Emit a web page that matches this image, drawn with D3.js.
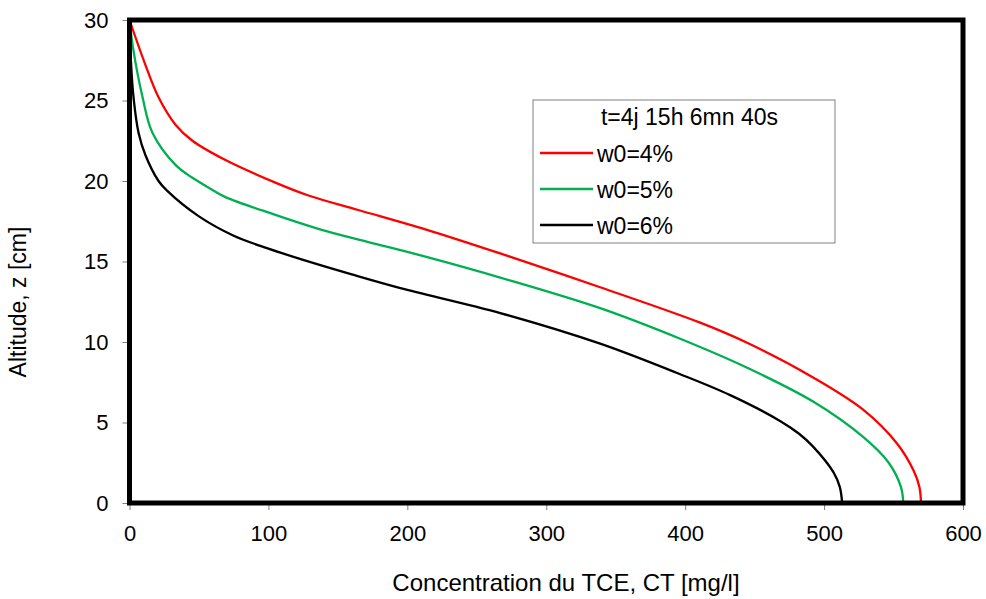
<!DOCTYPE html>
<html>
<head>
<meta charset="utf-8">
<script src="https://cdn.jsdelivr.net/npm/d3@7"></script>
<style>
  body { margin: 0; background: #fff; }
  text { font-family: Arial, "Liberation Sans", sans-serif; fill: #000; }
</style>
</head>
<body>
<div id="chart"></div>
<script>
// data: concentration CT [mg/l] at altitude z [cm]
var redCT   = [0, 11.5, 20.9, 33.1, 45.3, 69.1, 105, 128.8, 164.7, 213, 266.9, 338.8, 410.8, 444.6, 492.1, 528.1, 552.5, 564.5, 568.6, 569.8];
var redZ    = [30, 27.2, 25.2, 23.5, 22.5, 21.3, 19.9, 19.1, 18.2, 17.0, 15.5, 13.4, 11.2, 9.95, 7.8, 5.8, 3.7, 2.0, 1.0, 0];

var greenCT = [0, 2.5, 9.4, 16.5, 33.1, 45.3, 56.8, 69.1, 105, 141, 177, 213, 266.9, 338.8, 396.4, 444.6, 492.1, 528.1, 546.5, 555.3, 557];
var greenZ  = [30, 28.3, 25.2, 23.0, 21.0, 20.2, 19.6, 19.0, 17.9, 16.9, 16.1, 15.3, 14.0, 12.1, 10.2, 8.4, 6.3, 4.1, 2.5, 1.0, 0];

var blackCT = [0, 1.0, 2.9, 6.5, 11.5, 20.9, 27, 50, 75, 100, 125, 160, 195, 266.9, 338.8, 396.4, 432.4, 468.3, 482, 492.1, 506.8, 511.3, 513];
var blackZ  = [30, 27.5, 25.2, 23.0, 21.6, 20.0, 19.4, 17.8, 16.6, 15.8, 15.1, 14.2, 13.35, 11.8, 9.9, 8.0, 6.7, 5.1, 4.3, 3.5, 1.9, 1.0, 0];

var seriesNames = ["w0=4%", "w0=5%", "w0=6%"];
var seriesColors = ["#ff0000", "#00b050", "#000000"];
var legendTitle = "t=4j 15h 6mn 40s";

var xTicks = [0, 100, 200, 300, 400, 500, 600];
var yTicks = [0, 5, 10, 15, 20, 25, 30];

var W = 986, H = 599;
var margin = { top: 20, right: 23, bottom: 96, left: 129.5 },
    width = W - margin.left - margin.right,
    height = H - margin.top - margin.bottom;

var svg = d3.select("#chart").append("svg")
    .attr("width", W)
    .attr("height", H);

var g = svg.append("g")
    .attr("transform", "translate(" + margin.left + "," + margin.top + ")");

var x = d3.scaleLinear().domain([0, 600]).range([0, width]);
var y = d3.scaleLinear().domain([0, 30]).range([height, 0]);

// axes with small outward grey ticks
var xAxis = g.append("g")
    .attr("transform", "translate(0," + height + ")")
    .call(d3.axisBottom(x).tickValues(xTicks).tickSize(7).tickPadding(15));
var yAxis = g.append("g")
    .call(d3.axisLeft(y).tickValues(yTicks).tickSize(7).tickPadding(14));
[xAxis, yAxis].forEach(function (a) {
    a.select(".domain").remove();
    a.selectAll("line").attr("stroke", "#808080").attr("stroke-width", 1);
    a.selectAll("text")
        .style("font-family", "Arial, 'Liberation Sans', sans-serif")
        .style("font-size", "22px")
        .attr("fill", "#000");
});

// curves
var series = [
    { ct: redCT, z: redZ },
    { ct: greenCT, z: greenZ },
    { ct: blackCT, z: blackZ }
];
var line = d3.line()
    .x(function (d) { return x(d[0]); })
    .y(function (d) { return y(d[1]); })
    .curve(d3.curveCatmullRom.alpha(0.5));

series.forEach(function (s, i) {
    g.append("path")
        .datum(d3.zip(s.ct, s.z))
        .attr("fill", "none")
        .attr("stroke", seriesColors[i])
        .attr("stroke-width", 2.3)
        .attr("d", line);
});

// thick frame
g.append("rect")
    .attr("x", 0).attr("y", 0)
    .attr("width", width).attr("height", height)
    .attr("fill", "none")
    .attr("stroke", "#000")
    .attr("stroke-width", 5);

// legend
var legend = g.append("g")
    .attr("transform", "translate(" + (533 - margin.left) + "," + (100 - margin.top) + ")");
legend.append("rect")
    .attr("width", 302).attr("height", 143)
    .attr("fill", "#fff")
    .attr("stroke", "#808080")
    .attr("stroke-width", 1);
legend.append("text")
    .attr("x", 156.5).attr("y", 25)
    .attr("text-anchor", "middle")
    .style("font-size", "23px")
    .text(legendTitle);
seriesNames.forEach(function (name, i) {
    var yy = 53 + i * 36;
    legend.append("line")
        .attr("x1", 7).attr("x2", 60)
        .attr("y1", yy).attr("y2", yy)
        .attr("stroke", seriesColors[i])
        .attr("stroke-width", 2.3);
    legend.append("text")
        .attr("x", 64).attr("y", yy + 8.5)
        .style("font-size", "23px")
        .text(name);
});

// axis titles
svg.append("text")
    .attr("x", 566)
    .attr("y", 591)
    .attr("text-anchor", "middle")
    .style("font-size", "24px")
    .text("Concentration du TCE, CT [mg/l]");

svg.append("text")
    .attr("transform", "translate(26,302) rotate(-90)")
    .attr("text-anchor", "middle")
    .style("font-size", "23px")
    .text("Altitude, z [cm]");
</script>
</body>
</html>
